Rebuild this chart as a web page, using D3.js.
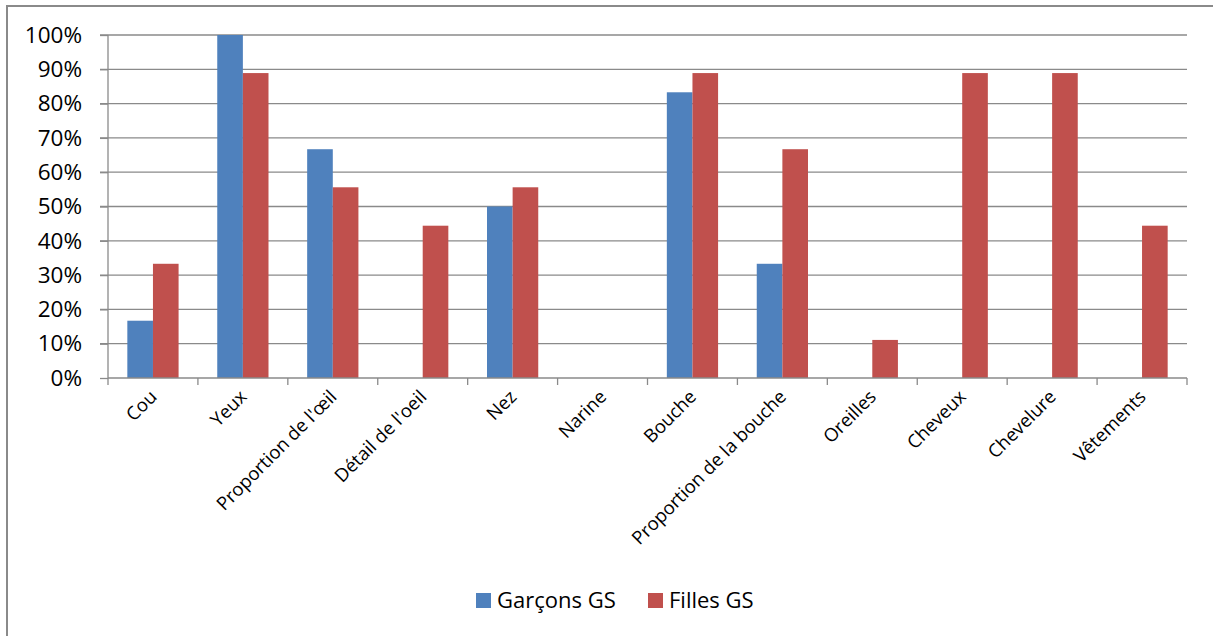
<!DOCTYPE html>
<html>
<head>
<meta charset="utf-8">
<script src="https://cdn.jsdelivr.net/npm/d3@7"></script>
<style>
  body { margin: 0; background: #fff; }
  svg { display: block; }
  text { font-family: "Open Sans", sans-serif; fill: #000; }
</style>
</head>
<body>
<div id="chart"></div>
<script>
// data
let categories = ['Cou', 'Yeux', "Proportion de l'œil", "Détail de l'oeil", 'Nez', 'Narine',
    'Bouche', 'Proportion de la bouche', 'Oreilles', 'Cheveux', 'Chevelure', 'Vêtements'];
let seriesNames = ['Garçons GS', 'Filles GS'];
let garcons = [0.167, 1.0, 0.667, 0, 0.5, 0, 0.833, 0.333, 0, 0, 0, 0];
let filles = [0.333, 0.889, 0.556, 0.444, 0.556, 0, 0.889, 0.667, 0.111, 0.889, 0.889, 0.444];
let yTicks = [0, 0.1, 0.2, 0.3, 0.4, 0.5, 0.6, 0.7, 0.8, 0.9, 1.0];

let colors = ['#4F81BD', '#C0504D'];

let svgWidth = 1213;
let svgHeight = 636;

let margin = { top: 35, right: 26, bottom: 258, left: 108 };
let width = svgWidth - margin.left - margin.right;
let height = svgHeight - margin.top - margin.bottom;

let svg = d3.select('#chart').append('svg')
    .attr('width', svgWidth)
    .attr('height', svgHeight);

// outer frame
svg.append('rect')
    .attr('x', 7).attr('y', 6)
    .attr('width', svgWidth + 10).attr('height', svgHeight + 10)
    .attr('fill', 'none')
    .attr('stroke', '#8a8a8a')
    .attr('stroke-width', 2);

let chartGroup = svg.append('g')
    .attr('transform', `translate(${margin.left}, ${margin.top})`);

// scales
let x0 = d3.scaleBand()
    .domain(categories)
    .range([0, width])
    .paddingInner(0.43)
    .paddingOuter(0.215);

let x1 = d3.scaleBand()
    .domain(seriesNames)
    .range([0, x0.bandwidth()]);

let xTickScale = d3.scaleLinear()
    .domain([0, categories.length])
    .range([0, width]);

let y = d3.scaleLinear()
    .domain([0, 1])
    .range([height, 0]);

// gridlines
chartGroup.append('g')
    .selectAll('line')
    .data(yTicks.slice(1))
    .enter()
    .append('line')
    .attr('x1', -8)
    .attr('x2', width)
    .attr('y1', d => y(d))
    .attr('y2', d => y(d))
    .attr('stroke', '#8a8a8a')
    .attr('stroke-width', 1.3);

// y axis
let leftAxis = d3.axisLeft(y)
    .tickValues(yTicks)
    .tickFormat(d3.format('.0%'))
    .tickSize(8)
    .tickPadding(18);

let yAxis = chartGroup.append('g').call(leftAxis);
yAxis.selectAll('path, line').attr('stroke', '#8a8a8a').attr('stroke-width', 1.3);
yAxis.select('.domain').attr('d', `M0,0V${height}`);
yAxis.selectAll('text')
    .attr('font-size', '22.5px')
    .style('font-family', '"Open Sans", sans-serif');

// bars
let groups = chartGroup.selectAll('.cat')
    .data(categories)
    .enter()
    .append('g')
    .attr('transform', d => `translate(${x0(d)}, 0)`);

groups.selectAll('rect')
    .data((d, i) => [garcons[i], filles[i]].map((v, j) => ({ key: seriesNames[j], value: v, j: j })))
    .enter()
    .append('rect')
    .attr('x', d => x1(d.key))
    .attr('y', d => y(d.value))
    .attr('width', x1.bandwidth())
    .attr('height', d => height - y(d.value))
    .attr('fill', d => colors[d.j]);

// x axis
let xAxis = chartGroup.append('g')
    .attr('transform', `translate(0, ${height})`);

xAxis.append('line')
    .attr('x1', 0).attr('x2', width)
    .attr('stroke', '#8a8a8a').attr('stroke-width', 1.3);

xAxis.selectAll('.tick')
    .data(d3.range(categories.length + 1))
    .enter()
    .append('line')
    .attr('x1', d => xTickScale(d))
    .attr('x2', d => xTickScale(d))
    .attr('y1', 0).attr('y2', 7)
    .attr('stroke', '#8a8a8a').attr('stroke-width', 1.3);

xAxis.selectAll('.xlabel')
    .data(categories)
    .enter()
    .append('text')
    .attr('text-anchor', 'end')
    .attr('font-size', '18.5px')
    .attr('transform', d => `translate(${x0(d) + x0.bandwidth() / 2 + 5}, 20) rotate(-45)`)
    .text(d => d);

// legend
let legend = svg.append('g')
    .attr('transform', 'translate(476, 600)');

let legendX = [0, 172];
seriesNames.forEach((name, i) => {
    let item = legend.append('g').attr('transform', `translate(${legendX[i]}, 0)`);
    item.append('rect')
        .attr('x', 0).attr('y', -7)
        .attr('width', 15).attr('height', 15)
        .attr('fill', colors[i]);
    item.append('text')
        .attr('x', 21)
        .attr('y', 8)
        .attr('font-size', '22px')
        .text(name);
});
</script>
</body>
</html>
